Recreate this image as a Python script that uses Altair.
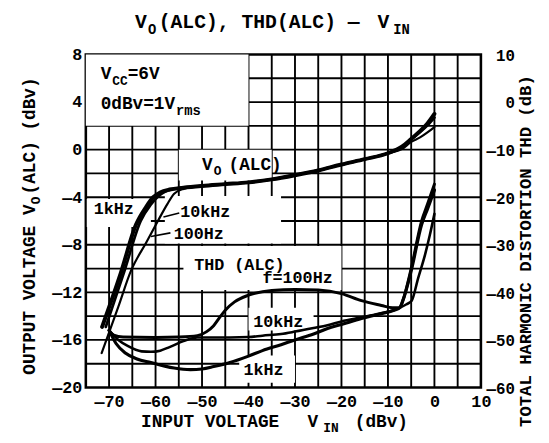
import altair as alt
import pandas as pd

FONT = "Liberation Mono"

# ---------------- V_O(ALC) vs V_IN  (left axis, dBv) ----------------
common_vin = [-50, -45, -40, -35, -30, -25, -20, -15, -10]
common_vo = [-3.05, -2.9, -2.75, -2.5, -2.15, -1.75, -1.25, -0.8, -0.3]
tail_vin = [-7, -5, -3, -1.5, 0]

vo_1k_vin = [-71.5, -67.5, -64.2, -62.0, -60.5, -59.0, -57.0, -54.0] + common_vin + tail_vin
vo_1k = [-14.9, -10.4, -6.3, -4.8, -4.0, -3.6, -3.35, -3.2] + common_vo + [0.25, 0.9, 1.6, 2.2, 3.0]

vo_10k_vin = [-70.7, -66.7, -63.2, -61.0, -59.5, -58.0, -56.0, -54.0] + common_vin + tail_vin
vo_10k = [-14.9, -10.2, -6.0, -4.6, -3.95, -3.55, -3.3, -3.2] + common_vo + [0.2, 0.85, 1.5, 2.05, 2.7]

vo_100_vin = [-71.6, -68.0, -65.3, -62.0, -59.5, -57.5, -56.0, -54.0] + common_vin + tail_vin
vo_100 = [-17.1, -13.2, -10.2, -7.8, -6.0, -4.6, -3.7, -3.3] + common_vo + [0.05, 0.65, 1.05, 1.45, 1.9]

# ---------------- THD(ALC) vs V_IN  (right axis, dB) ----------------
thd_100_vin = [-70, -69, -67, -60, -55, -51, -49, -47.5, -46, -45, -43, -40, -35, -30,
               -25, -20, -15.7, -11.4, -9, -7.5, -6.8, -5, -2.75, -1.5, 0]
thd_100 = [-48.0, -49.0, -49.4, -49.5, -49.4, -49.1, -48.25, -47.0, -45.0, -43.75, -42.0,
           -40.6, -39.6, -39.4, -39.5, -40.25, -41.75, -42.75, -43.25, -43.25, -41.75,
           -35.0, -25.0, -21.5, -17.25]

thd_10k_vin = [-70, -68, -66, -63, -61, -59, -57, -54, -51, -48, -44, -40, -37, -33, -30,
               -26, -23, -20, -15.7, -12, -8.7, -7.5, -6, -4.9, -3.5, -2, -1, 0]
thd_10k = [-48.0, -50.0, -51.25, -52.4, -52.5, -52.25, -51.5, -50.25, -49.5, -49.5, -49.5,
           -49.4, -49.1, -48.75, -48.25, -47.5, -46.9, -46.1, -45.25, -44.5, -43.75, -43.25,
           -42.5, -41.75, -37.0, -32.0, -28.0, -23.5]

thd_1k_vin = [-70, -68.5, -66.5, -64, -61, -58, -56, -52.5, -50, -47.5, -44, -40, -37, -33,
              -30, -26, -23, -20, -15.7, -12, -8.7, -7.5, -6.8, -5, -2.75, -1.5, 0]
thd_1k = [-48.0, -50.75, -52.75, -54.0, -54.75, -55.5, -55.9, -56.25, -56.1, -55.6, -54.75,
          -53.4, -52.25, -51.0, -50.0, -48.75, -47.6, -46.75, -45.5, -44.6, -43.75, -43.25,
          -41.75, -35.5, -25.75, -22.5, -18.5]

# ---------------- axes / grid ----------------
x_ticks = [-70, -60, -50, -40, -30, -20, -10, 0, 10]
left_ticks = [-20, -16, -12, -8, -4, 0, 4, 8]
right_ticks = [-60, -50, -40, -30, -20, -10, 0, 10]
vgrid_x = [-70, -65, -60, -55, -50, -45, -40, -35, -30, -25, -20, -15, -10, -5, 0, 5]
hgrid_y = [-18, -16, -14, -12, -10, -8, -6, -4, -2, 0, 2, 4, 6]

# blank (label) areas of the grid: x1, x2, y1, y2 in (dBv-in, dBv-out)
mask_x1 = [-75, -55, -74.8, -58, -54, -40, -42]
mask_x2 = [-40, -35, -61, -33, -20, -26, -30]
mask_y1 = [2, -2.6, -6.5, -7.9, -11.8, -15.2, -19.6]
mask_y2 = [8, 0, -4.15, -3.9, -8.1, -13.3, -17.3]

# in-plot labels
ann_text = ["V", "CC", "=6V", "0dBv=1V", "rms", "V", "O", "(ALC)", "1kHz", "10kHz", "100Hz",
            "THD (ALC)", "f=100Hz", "10kHz", "1kHz"]
ann_x = [-71.8, -69.3, -66.0, -71.8, -55.6, -50.0, -47.5, -44.3, -73.3, -54.7, -56.1,
         -51.7, -37.0, -39.0, -41.1]
ann_y = [5.92, 5.45, 5.92, 3.42, 2.95, -1.67, -2.17, -1.67, -5.42, -5.67, -7.5,
         -10.1, -11.2, -14.92, -18.92]
ann_size = [18, 13, 18, 18, 14, 18, 13, 18, 17, 17, 17, 17, 17, 17, 17]

# leader lines
lead_x = [-54.9, -56.8]
lead_y = [-5.33, -7.0]
lead_x2 = [-58.3, -61.0]
lead_y2 = [-5.67, -7.3]

# titles (pixel positions relative to plot area)
t_text = ["V", "O", "(ALC), THD(ALC) —", "V", "IN",
          "INPUT VOLTAGE", "V", "IN", "(dBv)"]
t_px = [50, 63, 74, 296, 312, 56, 225, 241, 273]
t_py = [-27, -21, -27, -27, -21, 378, 378, 383, 378]
t_size = [20, 14, 20, 20, 14, 18, 18, 13, 18]

r_text = ["OUTPUT VOLTAGE", "V", "O", "(ALC)  (dBv)", "TOTAL HARMONIC DISTORTION   THD (dB)"]
r_px = [-52, -52, -47, -52, 452]
r_py = [325, 163, 152, 142, 378]
r_size = [18, 18, 13, 18, 17.5]

# ---------------- build data ----------------
def frame(name, xs, ys, w):
    return pd.DataFrame({"vin": xs, "val": ys, "series": name, "w": w})

df_vo = pd.concat([
    frame("1kHz", vo_1k_vin, vo_1k, 4.0),
    frame("10kHz", vo_10k_vin, vo_10k, 2.8),
    frame("100Hz", vo_100_vin, vo_100, 2.2),
])
df_thd = pd.concat([
    frame("100Hz", thd_100_vin, thd_100, 3.0),
    frame("10kHz", thd_10k_vin, thd_10k, 2.6),
    frame("1kHz", thd_1k_vin, thd_1k, 3.2),
])
df_mask = pd.DataFrame({"x1": mask_x1, "x2": mask_x2, "y1": mask_y1, "y2": mask_y2})
df_ann = pd.DataFrame({"x": ann_x, "y": ann_y, "t": ann_text, "s": ann_size})
df_lead = pd.DataFrame({"x": lead_x, "y": lead_y, "x2": lead_x2, "y2": lead_y2})
df_t = pd.DataFrame({"px": t_px, "py": t_py, "t": t_text, "s": t_size})
df_r = pd.DataFrame({"px": r_px, "py": r_py, "t": r_text, "s": r_size})

XS = alt.Scale(domain=[-75, 10], nice=False, zero=False)
YL = alt.Scale(domain=[-20, 8], nice=False, zero=False)
YR = alt.Scale(domain=[-60, 10], nice=False, zero=False)

dash_expr = "datum.value < 0 ? '—' + abs(datum.value) : '' + datum.value"
ax_common = dict(labelFont=FONT, labelColor="black", labelFontWeight="bold",
                 tickSize=0, domain=False, grid=False, title=None,
                 labelExpr=dash_expr, labelOverlap=False, labelFlush=False)

x_axis = alt.Axis(orient="bottom", values=x_ticks, labelPadding=6, labelFontSize=17, **ax_common)
left_axis = alt.Axis(orient="left", values=left_ticks, labelPadding=4, labelFontSize=17, **ax_common)
right_axis = alt.Axis(orient="right", values=right_ticks, labelPadding=34, labelFontSize=16,
                      labelAlign="right", labelOffset=1, **ax_common)

vgrid = alt.Chart(pd.DataFrame({"g": vgrid_x})).mark_rule(color="black", strokeWidth=1.9).encode(
    x=alt.X("g:Q", scale=XS, axis=x_axis))
hgrid = alt.Chart(pd.DataFrame({"g": hgrid_y})).mark_rule(color="black", strokeWidth=1.9).encode(
    y=alt.Y("g:Q", scale=YL, axis=left_axis))

masks = alt.Chart(df_mask).mark_rect(color="white").encode(
    x=alt.X("x1:Q", scale=XS, axis=None), x2="x2:Q",
    y=alt.Y("y1:Q", scale=YL, axis=None), y2="y2:Q")

vo_lines = alt.Chart(df_vo).mark_line(color="black", interpolate="monotone", strokeCap="round").encode(
    x=alt.X("vin:Q", scale=XS, axis=None),
    y=alt.Y("val:Q", scale=YL, axis=None),
    detail="series:N",
    strokeWidth=alt.StrokeWidth("w:Q", scale=None))

thd_lines = alt.Chart(df_thd).mark_line(color="black", interpolate="monotone", strokeCap="round").encode(
    x=alt.X("vin:Q", scale=XS, axis=None),
    y=alt.Y("val:Q", scale=YR, axis=right_axis),
    detail="series:N",
    strokeWidth=alt.StrokeWidth("w:Q", scale=None))

leaders = alt.Chart(df_lead).mark_rule(color="black", strokeWidth=1.6).encode(
    x=alt.X("x:Q", scale=XS, axis=None), x2="x2:Q",
    y=alt.Y("y:Q", scale=YL, axis=None), y2="y2:Q")

annots = alt.Chart(df_ann).mark_text(align="left", baseline="alphabetic", font=FONT,
                                     fontWeight="bold", color="black").encode(
    x=alt.X("x:Q", scale=XS, axis=None),
    y=alt.Y("y:Q", scale=YL, axis=None),
    text="t:N",
    size=alt.Size("s:Q", scale=None))

titles = alt.Chart(df_t).mark_text(align="left", baseline="alphabetic", font=FONT,
                                   fontWeight="bold", color="black").encode(
    x=alt.X("px:Q", scale=None, axis=None),
    y=alt.Y("py:Q", scale=None, axis=None),
    text="t:N",
    size=alt.Size("s:Q", scale=None))

rtitles = alt.Chart(df_r).mark_text(align="left", baseline="alphabetic", font=FONT, angle=270,
                                    fontWeight="bold", color="black").encode(
    x=alt.X("px:Q", scale=None, axis=None),
    y=alt.Y("py:Q", scale=None, axis=None),
    text="t:N",
    size=alt.Size("s:Q", scale=None))

chart = alt.layer(vgrid, hgrid, masks, vo_lines, thd_lines, leaders, annots, titles, rtitles).resolve_scale(
    x="independent", y="independent"
).properties(
    width=401, height=338,
    autosize=alt.AutoSizeParams(type="none"),
    padding={"left": 79, "top": 44, "right": 61, "bottom": 45},
    background="white",
).configure_view(stroke="black", strokeWidth=2.6)

chart.save("out.html", embed_options={"renderer": "svg", "actions": False})
